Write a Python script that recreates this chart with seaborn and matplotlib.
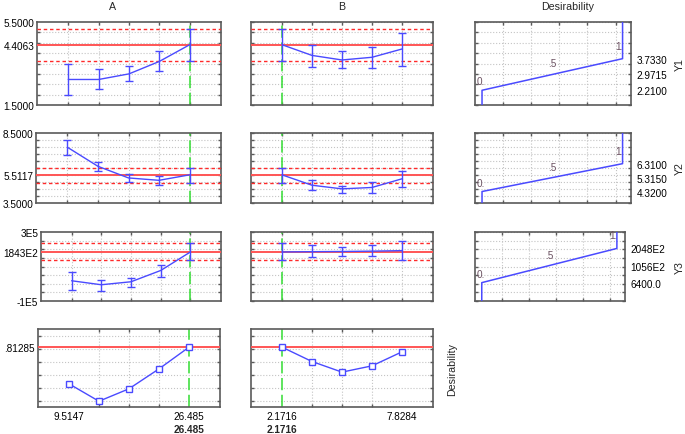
import numpy as np
import pandas as pd
import matplotlib
matplotlib.use("Agg")
import matplotlib.pyplot as plt
import seaborn as sns

sns.set_theme(style="white")
plt.rcParams['font.family'] = ['Liberation Sans', 'DejaVu Sans']

# ---------------- data ----------------
factor_a = [9.5147, 13.7573, 18.0, 22.2426, 26.485]
factor_b = [2.1716, 3.5858, 5.0, 6.4142, 7.8284]
current_a = 26.485
current_b = 2.1716

y1_a = [2.73, 2.73, 3.00, 3.60, 4.4063]
y1_a_lo = [2.00, 2.27, 2.64, 3.12, 3.64]
y1_a_hi = [3.50, 3.24, 3.40, 4.08, 5.18]
y1_b = [4.4063, 3.89, 3.67, 3.80, 4.20]
y1_b_lo = [3.64, 3.35, 3.29, 3.30, 3.40]
y1_b_hi = [5.18, 4.41, 4.12, 4.28, 4.95]
y1_current = 4.4063
y1_ci = [3.64, 5.18]

y2_a = [7.48, 6.12, 5.29, 5.12, 5.5117]
y2_a_lo = [6.93, 5.76, 5.02, 4.79, 4.95]
y2_a_hi = [8.02, 6.45, 5.57, 5.45, 6.02]
y2_b = [5.5117, 4.77, 4.51, 4.61, 5.23]
y2_b_lo = [4.95, 4.41, 4.18, 4.25, 4.63]
y2_b_hi = [6.02, 5.15, 4.75, 4.99, 5.82]
y2_current = 5.5117
y2_ci = [4.95, 6.02]

y3_a = [17300, -5800, 11500, 76900, 184300]
y3_a_lo = [-34600, -40400, -17300, 40400, 135000]
y3_a_hi = [69200, 23100, 34600, 111500, 235000]
y3_b = [184300, 186000, 187000, 189000, 192000]
y3_b_lo = [135000, 153500, 163000, 159000, 140000]
y3_b_hi = [235000, 223000, 211000, 223000, 246000]
y3_current = 184300
y3_ci = [135000, 235000]

des_a = [0.533, 0.400, 0.495, 0.647, 0.81285]
des_b = [0.81285, 0.703, 0.622, 0.670, 0.777]
des_current = 0.81285

# desirability function specs (low, medium, high)
spec_y1 = [2.21, 2.9715, 3.733]
spec_y2 = [4.32, 5.315, 6.31]
spec_y3 = [6400, 105600, 204800]
spec_labels_y1 = ['2.2100', '2.9715', '3.7330']
spec_labels_y2 = ['4.3200', '5.3150', '6.3100']
spec_labels_y3 = ['6400.0', '1056E2', '2048E2']
des_values = [0.0, 0.5, 1.0]
des_value_labels = ['0.', '.5', '1.']

ylims = [(1.5, 5.5), (3.5, 8.5), (-1e5, 3e5), (0.356, 0.951)]
ygrid_step = [0.5, 0.5, 0.5e5, 0.1]
left_ticks = [[1.5, 4.4063, 5.5], [3.5, 5.5117, 8.5], [-1e5, 184300, 3e5], [0.81285]]
left_labels = [['1.5000', '4.4063', '5.5000'], ['3.5000', '5.5117', '8.5000'],
               ['-1E5', '1843E2', '3E5'], ['.81285']]
xtick_labels_a = ['9.5147', '26.485']
xtick_labels_b = ['2.1716', '7.8284']
current_labels = ['26.485', '2.1716']
row_names = ['Y1', 'Y2', 'Y3']
col_titles = ['A', 'B', 'Desirability']

# ---------------- styling ----------------
W, H = 685, 435
BLUE = '#4a4aff'
RED = '#ff5555'
REDD = '#ff2a2a'
GREEN = '#33dd33'
GRID = '#c4c4c4'
FRAME = '#5a5a5a'
FS = 7.2

fig = plt.figure(figsize=(W / 100, H / 100), dpi=100)
fig.patch.set_facecolor('white')

def pbox(x0, x1, y0, y1):
    return [x0 / W, 1 - y1 / H, (x1 - x0) / W, (y1 - y0) / H]

rows_px = [(23, 106), (134, 204), (233, 302), (330, 408)]
cola_px = [(37, 221), (36, 221), (41, 221), (38, 220)]
colb_px = (251, 433)
cold_px = [(475, 631), (475, 631), (475, 625)]

def style_axes(ax):
    ax.set_facecolor('white')
    for s in ax.spines.values():
        s.set_color(FRAME)
        s.set_linewidth(1.2)
    ax.tick_params(axis='both', which='both', direction='in', colors=FRAME,
                   labelcolor='black', labelsize=FS)
    ax.tick_params(axis='y', which='major', length=0, pad=2)
    ax.tick_params(axis='y', which='minor', length=2.5, left=True, right=True)
    ax.tick_params(axis='x', which='major', length=0, pad=3)
    ax.tick_params(axis='x', which='minor', length=2.5, bottom=True, top=True)
    ax.grid(False, which='major')
    ax.grid(True, which='minor', color=GRID, linestyle=':', linewidth=0.8)
    ax.set_axisbelow(True)

def ygrid(ax, lim, step):
    n0 = int(np.ceil(lim[0] / step - 1e-9))
    n1 = int(np.floor(lim[1] / step + 1e-9))
    vals = [k * step for k in range(n0, n1 + 1)]
    ax.set_yticks(vals, minor=True)
    ax.set_ylim(*lim)

profiles = [
    [(y1_a, y1_a_lo, y1_a_hi), (y1_b, y1_b_lo, y1_b_hi), y1_current, y1_ci],
    [(y2_a, y2_a_lo, y2_a_hi), (y2_b, y2_b_lo, y2_b_hi), y2_current, y2_ci],
    [(y3_a, y3_a_lo, y3_a_hi), (y3_b, y3_b_lo, y3_b_hi), y3_current, y3_ci],
]
factors = [factor_a, factor_b]
currents = [current_a, current_b]
xlabels = [xtick_labels_a, xtick_labels_b]
specs = [spec_y1, spec_y2, spec_y3]
spec_labels = [spec_labels_y1, spec_labels_y2, spec_labels_y3]

for r in range(4):
    ry0, ry1 = rows_px[r]
    for c in range(2):
        if c == 0:
            x0, x1 = cola_px[r]
        else:
            x0, x1 = colb_px
        ax = fig.add_axes(pbox(x0, x1, ry0, ry1))
        style_axes(ax)
        fx = factors[c]
        step = (fx[-1] - fx[0]) / (len(fx) - 1)
        ax.set_xlim(fx[0] - 1.03 * step, fx[-1] + 1.03 * step)
        ax.set_xticks(fx, minor=True)
        ygrid(ax, ylims[r], ygrid_step[r])
        if c == 0:
            ax.set_yticks(left_ticks[r])
            ax.set_yticklabels(left_labels[r])
        else:
            ax.set_yticks([])
        ax.axvline(currents[c], color=GREEN, ls=(0, (8, 3)), lw=1.1, zorder=2)
        if r < 3:
            vals, lo, hi = profiles[r][c]
            cur = profiles[r][2]
            ci = profiles[r][3]
            ax.axhline(cur, color=RED, lw=1.4, zorder=3)
            for v in ci:
                ax.axhline(v, color=REDD, lw=1.0, ls=(0, (2.5, 2)), zorder=3)
            df = pd.DataFrame({'x': fx, 'y': vals})
            sns.lineplot(data=df, x='x', y='y', ax=ax, color=BLUE, lw=1.0,
                         sort=False, estimator=None, zorder=5)
            v = np.array(vals, dtype=float)
            ax.errorbar(fx, v, yerr=[v - np.array(lo), np.array(hi) - v],
                        fmt='none', ecolor=BLUE, elinewidth=1.0, capsize=3,
                        capthick=1.0, zorder=6)
            ax.set_xticks([])
        else:
            dv = des_a if c == 0 else des_b
            ax.axhline(des_current, color=RED, lw=1.4, zorder=3)
            df = pd.DataFrame({'x': fx, 'y': dv})
            sns.lineplot(data=df, x='x', y='y', ax=ax, color=BLUE, lw=1.0,
                         sort=False, estimator=None, marker='s', markersize=4,
                         markerfacecolor='white', markeredgecolor=BLUE,
                         markeredgewidth=1.0, zorder=5)
            ax.set_xticks([fx[0], fx[-1]])
            ax.set_xticklabels(xlabels[c])
            cur = currents[c]
            ax.annotate(current_labels[c],
                        xy=(cur, 0), xycoords=('data', 'axes fraction'),
                        xytext=(0, -22), textcoords='offset pixels',
                        ha='center', va='center', fontsize=FS,
                        fontweight='bold')
        ax.set_xlabel('')
        ax.set_ylabel('')

    # desirability function column
    if r < 3:
        dx0, dx1 = cold_px[r]
        ax = fig.add_axes(pbox(dx0, dx1, ry0, ry1))
        style_axes(ax)
        ax.set_xlim(-0.05, 1.06)
        ax.set_xticks([0.15, 0.35, 0.55, 0.75, 0.95], minor=True)
        ax.set_xticks([])
        lim = ylims[r]
        ygrid(ax, lim, ygrid_step[r])
        sp = specs[r]
        ax.yaxis.tick_right()
        ax.set_yticks(sp)
        ax.set_yticklabels(spec_labels[r])
        ax.tick_params(axis='y', which='major', length=0, pad=4)
        ax.tick_params(axis='y', which='minor', left=True, right=True)
        curve = pd.DataFrame({'d': [0, 0, 1, 1],
                              'y': [lim[0], sp[0], sp[2], lim[1]]})
        sns.lineplot(data=curve, x='d', y='y', ax=ax, color=BLUE, lw=1.1,
                     sort=False, estimator=None, zorder=5)
        pos = [(0, sp[0], -1, 9), (0.5, sp[1], 0, 11), (1, sp[2], -3, 13)]
        for (dx, dy, ox, oy), lab in zip(pos, des_value_labels):
            ax.annotate(lab, xy=(dx, dy), xytext=(ox, oy),
                        textcoords='offset pixels', ha='center', va='center',
                        fontsize=FS, color='#6a5060')
        ax.set_xlabel('')
        ax.set_ylabel('')
        fig.text(680 / W, 1 - ((ry0 + ry1) / 2) / H, row_names[r],
                 rotation=90, ha='center', va='center', fontsize=FS + 0.5)

fig.text(452 / W, 1 - 369 / H, 'Desirability', rotation=90, ha='center',
         va='center', fontsize=FS + 0.5)
for t, xp in zip(col_titles, [113, 342, 568]):
    fig.text(xp / W, 1 - 7 / H, t, ha='center', va='center', fontsize=FS + 0.5)

fig.savefig('out.png', dpi=100, facecolor='white')
